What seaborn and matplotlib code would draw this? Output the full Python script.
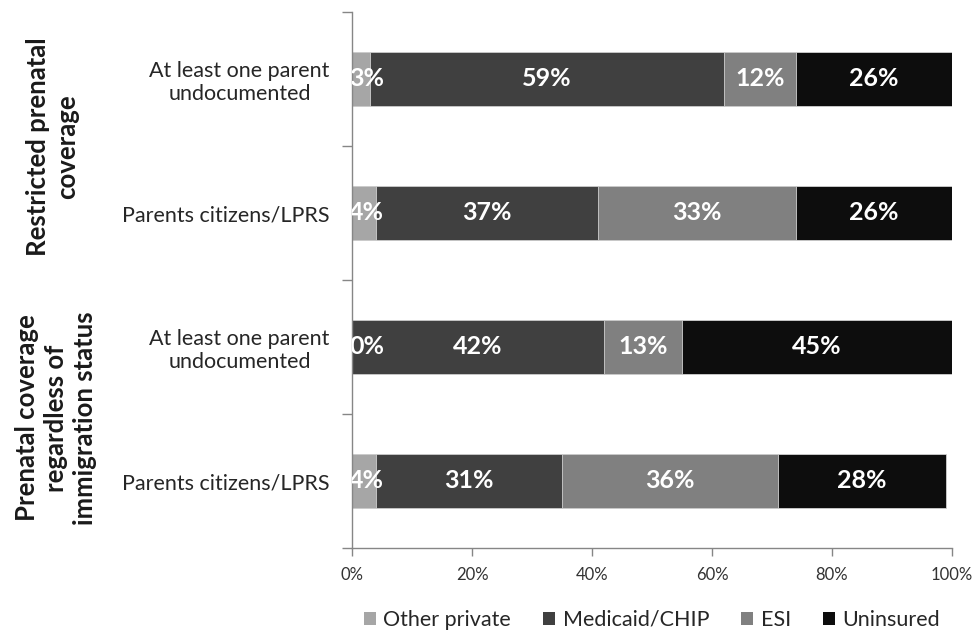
import matplotlib
matplotlib.use("Agg")
import matplotlib.pyplot as plt
import numpy as np
import pandas as pd
import seaborn as sns
from matplotlib.patches import Patch

# Rows, top to bottom
row_keys = ["restricted_undoc", "restricted_citizen", "universal_undoc", "universal_citizen"]
row_labels = [
    "At least one parent\nundocumented",
    "Parents citizens/LPRS",
    "At least one parent\nundocumented",
    "Parents citizens/LPRS",
]
group_labels = [
    "Restricted prenatal\ncoverage",
    "Prenatal coverage\nregardless of\nimmigration status",
]

# Coverage shares (%) per row
series_names = ["Other private", "Medicaid/CHIP", "ESI", "Uninsured"]
other_private = [3, 4, 0, 4]
medicaid_chip = [59, 37, 42, 31]
esi = [12, 33, 13, 36]
uninsured = [26, 26, 45, 28]
series_colors = ["#a6a6a6", "#404040", "#808080", "#0d0d0d"]

x_ticks = [0, 20, 40, 60, 80, 100]
x_tick_labels = ["0%", "20%", "40%", "60%", "80%", "100%"]

sns.set_theme(style="white")
plt.rcParams["font.family"] = ["Lato", "DejaVu Sans"]

df = pd.DataFrame(
    {
        "Other private": other_private,
        "Medicaid/CHIP": medicaid_chip,
        "ESI": esi,
        "Uninsured": uninsured,
    },
    index=row_keys,
)
cum = df.cumsum(axis=1)

fig = plt.figure(figsize=(9.72, 6.33), dpi=100)
ax = fig.add_axes([352 / 972, 1 - 548 / 633, 600 / 972, 536 / 633])

# Stacked bars: draw cumulative totals from the last series back to the first
for name, color in reversed(list(zip(series_names, series_colors))):
    plot_df = pd.DataFrame({"row": row_keys, "value": cum[name].values})
    sns.barplot(
        data=plot_df, x="value", y="row", order=row_keys, orient="h",
        color=color, saturation=1, width=0.4, ax=ax,
        edgecolor="#d0d0d0", linewidth=0.6,
    )

# Segment value labels
for i, key in enumerate(row_keys):
    left = 0
    for name in series_names:
        v = df.loc[key, name]
        cx = max(left + v / 2, 2.4)
        ax.text(cx, i, f"{v}%", ha="center", va="center", color="white",
                fontsize=18, fontweight="bold", clip_on=True)
        left += v

ax.set_xlim(0, 100)
ax.set_ylim(3.5, -0.5)
ax.set_xlabel("")
ax.set_ylabel("")
ax.set_xticks(x_ticks)
ax.set_xticklabels(x_tick_labels, fontsize=12, color="#333333")
ax.set_yticks(range(len(row_keys)))
ax.set_yticklabels(row_labels, fontsize=15.5, color="#262626", ha="right",
                   multialignment="center")
ax.set_yticks([-0.5, 0.5, 1.5, 2.5, 3.5], minor=True)

spine_color = "#868686"
for side in ["top", "right"]:
    ax.spines[side].set_visible(False)
for side in ["left", "bottom"]:
    ax.spines[side].set_color(spine_color)
    ax.spines[side].set_linewidth(1.0)

ax.tick_params(axis="y", which="major", length=0, pad=16)
ax.tick_params(axis="y", which="minor", length=7, direction="out",
               color=spine_color, width=1.0, left=True)
ax.tick_params(axis="x", which="major", length=6, direction="out",
               color=spine_color, width=1.0, bottom=True, pad=8)

# Group titles on the far left
fig.text(53 / 972, 1 - 147 / 633, group_labels[0], rotation=90,
         ha="center", va="center", multialignment="center",
         fontsize=18.5, fontweight="bold", color="#1a1a1a", linespacing=1.25)
fig.text(56 / 972, 1 - 418 / 633, group_labels[1], rotation=90,
         ha="center", va="center", multialignment="center",
         fontsize=18.5, fontweight="bold", color="#1a1a1a", linespacing=1.25)

handles = [Patch(facecolor=c, edgecolor="none", label=n)
           for n, c in zip(series_names, series_colors)]
fig.legend(handles=handles, loc="center", bbox_to_anchor=(652 / 972, 1 - 620 / 633),
           ncol=4, frameon=False, fontsize=15.5, handlelength=0.55, handleheight=0.55,
           handletextpad=0.35, columnspacing=1.5, labelcolor="#262626")

fig.savefig("out.png", dpi=100)
